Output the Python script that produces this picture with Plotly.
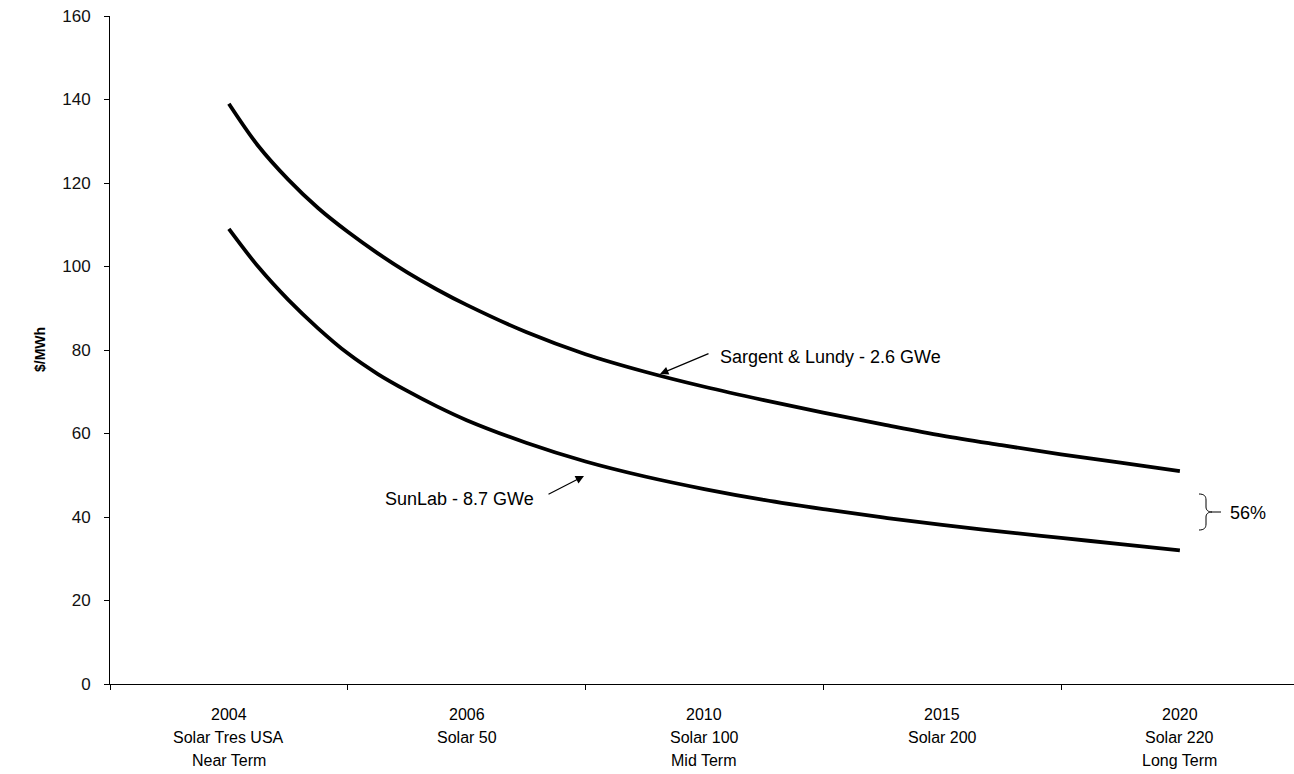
import plotly.graph_objects as go

# ---- data ----
categories = ["2004", "2006", "2010", "2015", "2020"]
plant_names = ["Solar Tres USA", "Solar 50", "Solar 100", "Solar 200", "Solar 220"]
terms = ["Near Term", "", "Mid Term", "", "Long Term"]

# curves at fractions of a category
x_pos = [0, 0.125, 0.25, 0.375, 0.5, 0.625, 0.75, 0.875, 1, 1.25, 1.5, 1.75, 2, 2.25,
         2.5, 2.75, 3, 3.25, 3.5, 3.75, 4]
sargent_lundy = [139, 128.8, 120.8, 114, 108.3, 103.2, 98.6, 94.5, 90.8, 84.3, 79, 74.8,
                 71.2, 68, 65, 62.2, 59.5, 57.2, 55, 53, 51]
sunlab = [109, 99.8, 92, 85.2, 79.2, 74.3, 70.2, 66.5, 63.2, 57.8, 53.3, 49.7, 46.7,
          44.1, 41.9, 39.9, 38.1, 36.5, 35, 33.5, 32]

y_ticks = [0, 20, 40, 60, 80, 100, 120, 140, 160]

W, H = 1294, 774
L, R, T, B = 110, 0, 16, 90
X_RANGE = [-0.5, 4.48]
Y_RANGE = [0, 160]
FONT = "Liberation Sans, Arial, sans-serif"

def px_x(p):
    return X_RANGE[0] + (p - L) / (W - L - R) * (X_RANGE[1] - X_RANGE[0])

def px_y(p):
    return Y_RANGE[0] + (H - B - p) / (H - B - T) * (Y_RANGE[1] - Y_RANGE[0])

fig = go.Figure()
fig.add_trace(go.Scatter(x=x_pos, y=sargent_lundy, mode="lines",
                         line=dict(color="black", width=3.8, shape="spline", smoothing=1),
                         name="Sargent & Lundy - 2.6 GWe", hoverinfo="skip"))
fig.add_trace(go.Scatter(x=x_pos, y=sunlab, mode="lines",
                         line=dict(color="black", width=3.8, shape="spline", smoothing=1),
                         name="SunLab - 8.7 GWe", hoverinfo="skip"))

ann = []
# category labels (3 lines)
for i in range(len(categories)):
    for k, txt in enumerate([categories[i], plant_names[i], terms[i]]):
        if not txt:
            continue
        ann.append(dict(x=i, y=0, xref="x", yref="paper", text=txt, showarrow=False,
                        xanchor="center", yanchor="middle", yshift=-(30 + 23 * k),
                        font=dict(family=FONT, size=16, color="black")))

# y-axis title
ann.append(dict(x=0, y=0.5, xref="paper", yref="paper", xshift=-70, text="<b>$/MWh</b>",
                textangle=-90, showarrow=False, xanchor="center", yanchor="middle",
                font=dict(family=FONT, size=14, color="black")))

# Sargent & Lundy label + arrow
ann.append(dict(x=px_x(718), y=px_y(357), xref="x", yref="y", text="Sargent & Lundy - 2.6 GWe",
                showarrow=False, xanchor="left", yanchor="middle",
                font=dict(family=FONT, size=18, color="black")))
ann.append(dict(x=px_x(660), y=px_y(374), ax=px_x(710), ay=px_y(353), xref="x", yref="y",
                axref="x", ayref="y", text="", showarrow=True, arrowhead=2, arrowsize=1.4,
                arrowwidth=1.2, arrowcolor="black"))
# SunLab label + arrow
ann.append(dict(x=px_x(536), y=px_y(499), xref="x", yref="y", text="SunLab - 8.7 GWe",
                showarrow=False, xanchor="right", yanchor="middle",
                font=dict(family=FONT, size=18, color="black")))
ann.append(dict(x=px_x(584), y=px_y(476), ax=px_x(547), ay=px_y(495), xref="x", yref="y",
                axref="x", ayref="y", text="", showarrow=True, arrowhead=2, arrowsize=1.4,
                arrowwidth=1.2, arrowcolor="black"))
# 56% label
ann.append(dict(x=px_x(1228), y=px_y(513), xref="x", yref="y", text="56%",
                showarrow=False, xanchor="left", yanchor="middle",
                font=dict(family=FONT, size=18, color="black")))

# brace path
def P(a, b):
    return f"{px_x(a)},{px_y(b)}"

brace = (f"M {P(1199,494)} C {P(1204,494)} {P(1206,496)} {P(1206,500)} "
         f"L {P(1206,507)} C {P(1206,510)} {P(1208,512)} {P(1212,512)} "
         f"C {P(1208,512)} {P(1206,514)} {P(1206,517)} "
         f"L {P(1206,524)} C {P(1206,528)} {P(1204,530)} {P(1199,530)} "
         f"M {P(1212,512)} L {P(1221,512)}")

fig.update_layout(
    width=W, height=H,
    margin=dict(l=L, r=R, t=T, b=B),
    paper_bgcolor="white", plot_bgcolor="white",
    showlegend=False,
    annotations=ann,
    shapes=[dict(type="path", path=brace, xref="x", yref="y",
                 line=dict(color="black", width=1))],
    xaxis=dict(range=X_RANGE, showgrid=False, zeroline=False, showline=True,
               linecolor="black", linewidth=1,
               tickmode="array", tickvals=[-0.5, 0.5, 1.5, 2.5, 3.5],
               ticks="outside", ticklen=5, tickcolor="black", showticklabels=False),
    yaxis=dict(range=Y_RANGE, showgrid=False, zeroline=False, showline=True,
               linecolor="black", linewidth=1,
               tickmode="array", tickvals=y_ticks, ticks="outside", ticklen=5,
               tickcolor="black", ticklabelstandoff=10,
               tickfont=dict(family=FONT, size=17, color="#111111")),
)

fig.write_html("out.html")
